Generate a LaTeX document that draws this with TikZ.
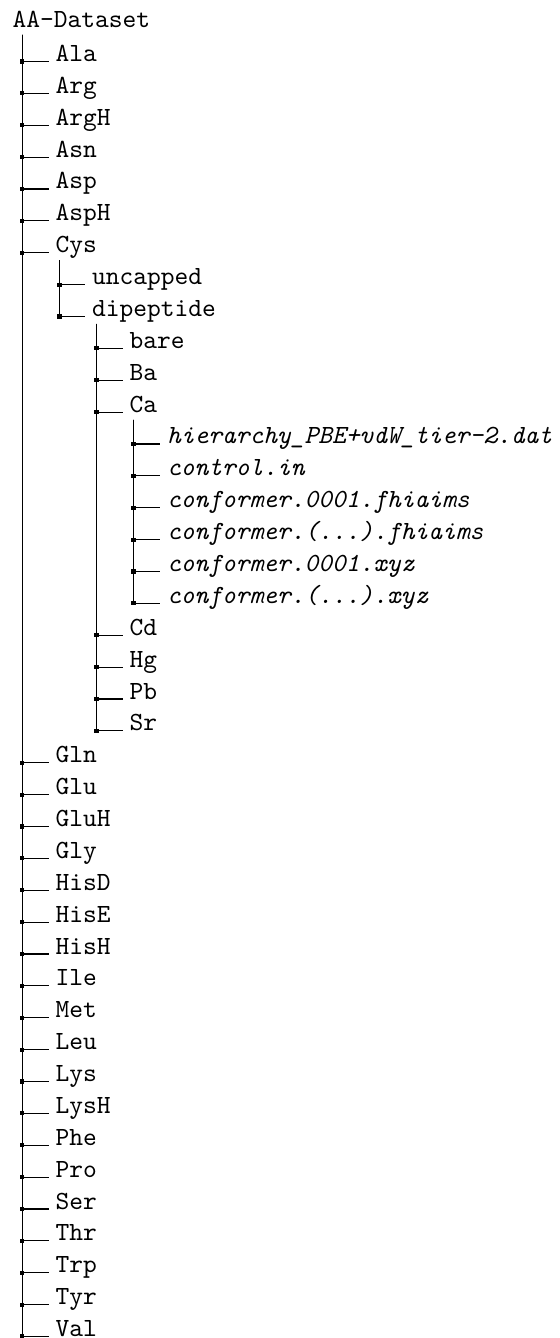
\documentclass[tikz,border=0pt]{standalone}
\begin{document}
\begin{tikzpicture}[x=0.3817pt,y=-0.3817pt,
    eintrag/.style={anchor=base west,inner xsep=2.5pt,inner ysep=0pt,font=\ttfamily},
    datei/.style={eintrag,font=\ttfamily\itshape},
    ast/.style={line width=0.4pt,black}]
    \useasboundingbox (0,0) rectangle (560,1338);
    %Wurzel
    \node[eintrag] (root) at (5.5,27.3) {AA-Dataset};
    %Aminosaeuren
    \foreach \n/\t/\r in {ala/Ala/1,arg/Arg/2,argh/ArgH/3,asn/Asn/4,asp/Asp/5,asph/AspH/6,cys/Cys/7,
        gln/Gln/23,glu/Glu/24,gluh/GluH/25,gly/Gly/26,hisd/HisD/27,hise/HisE/28,hish/HisH/29,
        ile/Ile/30,met/Met/31,leu/Leu/32,lys/Lys/33,lysh/LysH/34,phe/Phe/35,pro/Pro/36,
        ser/Ser/37,thr/Thr/38,trp/Trp/39,tyr/Tyr/40,val/Val/41}
        \node[eintrag] (\n) at (48.5,{29.625+\r*31.875}) {\t};
    %Cys
    \node[eintrag] (uncapped)  at (85,{29.625+8*31.875}) {uncapped};
    \node[eintrag] (dipeptide) at (85,{29.625+9*31.875}) {dipeptide};
    %dipeptide
    \node[eintrag] (bare) at (122.5,{29.625+10*31.875}) {bare};
    \node[eintrag] (ba)   at (122.5,{29.625+11*31.875}) {Ba};
    \node[eintrag] (ca)   at (122.5,{29.625+12*31.875}) {Ca};
    \node[eintrag] (cd)   at (122.5,{29.625+19*31.875}) {Cd};
    \node[eintrag] (hg)   at (122.5,{29.625+20*31.875}) {Hg};
    \node[eintrag] (pb)   at (122.5,{29.625+21*31.875}) {Pb};
    \node[eintrag] (sr)   at (122.5,{29.625+22*31.875}) {Sr};
    %Dateien
    \node[datei] (f1) at (160,{29.625+13*31.875}) {hierarchy\_PBE+vdW\_tier-2.dat};
    \node[datei] (f2) at (160,{29.625+14*31.875}) {control.in};
    \node[datei] (f3) at (160,{29.625+15*31.875}) {conformer.0001.fhiaims};
    \node[datei] (f4) at (160,{29.625+16*31.875}) {conformer.(...).fhiaims};
    \node[datei] (f5) at (160,{29.625+17*31.875}) {conformer.0001.xyz};
    \node[datei] (f6) at (160,{29.625+18*31.875}) {conformer.(...).xyz};
    %Aeste
    \coordinate (root-v) at ([shift={(16.8,7.7)}]root.base west);
    \coordinate (cys-v)  at ([shift={(11,7.5)}]cys.base west);
    \coordinate (dip-v)  at ([shift={(11.5,7.5)}]dipeptide.base west);
    \coordinate (ca-v)   at ([shift={(11,7.5)}]ca.base west);
    \foreach \v/\liste in {root-v/{ala,arg,argh,asn,asp,asph,cys,gln,glu,gluh,gly,hisd,hise,hish,ile,met,leu,lys,lysh,phe,pro,ser,thr,trp,tyr,val},
        cys-v/{uncapped,dipeptide},
        dip-v/{bare,ba,ca,cd,hg,pb,sr},
        ca-v/{f1,f2,f3,f4,f5,f6}}
        \foreach \c in \liste {
            \draw[ast] (\v) |- (\c.base west);
            \fill (\v |- \c.base) ++(-0.8pt,-0.8pt) rectangle ++(1.6pt,1.6pt);
        }
\end{tikzpicture}
\end{document}
